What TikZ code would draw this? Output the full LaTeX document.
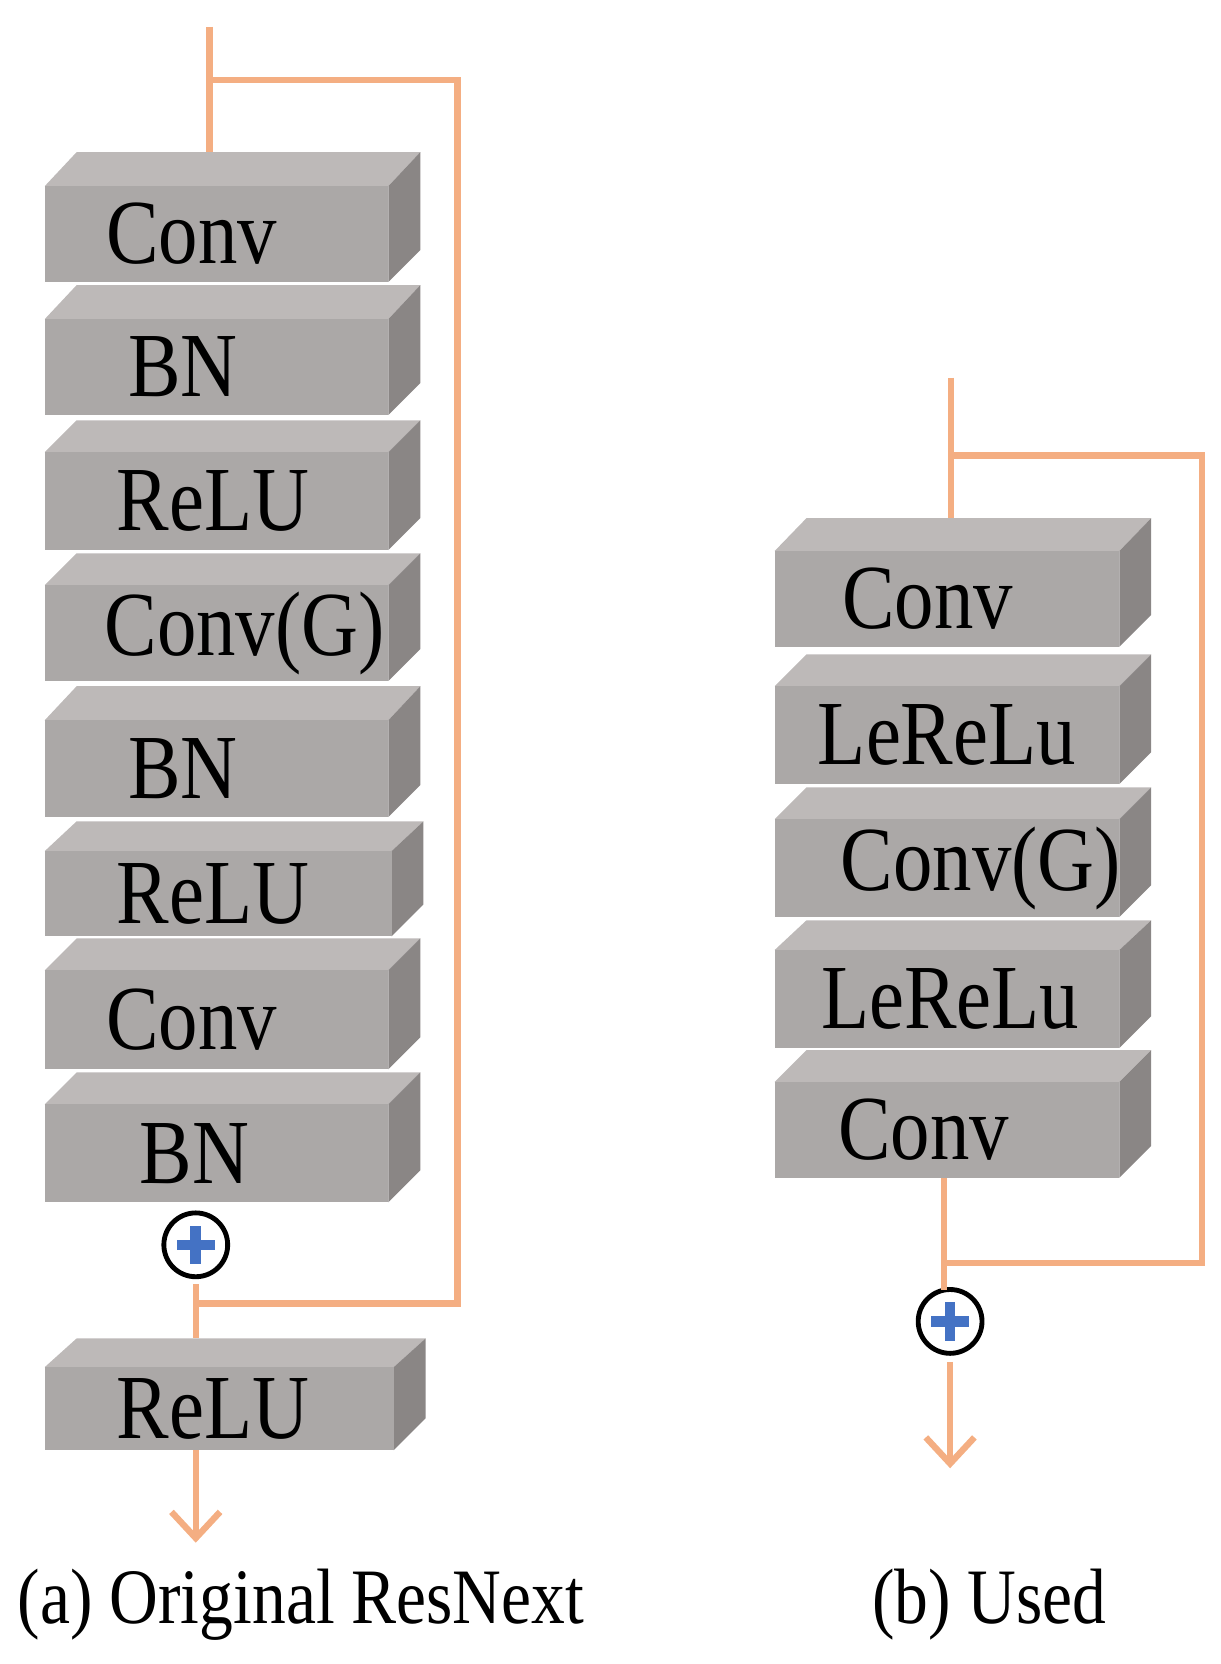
\documentclass[tikz,border=0pt]{standalone}
\usepackage{fontspec}
\setmainfont[FakeStretch=0.86]{Liberation Serif}
\usetikzlibrary{arrows.meta,calc}
\definecolor{frontc}{HTML}{ABA8A7}
\definecolor{topc}{HTML}{BDB9B8}
\definecolor{sidec}{HTML}{8A8685}
\definecolor{linec}{HTML}{F4AE82}
\definecolor{plusc}{HTML}{4472C4}
\tikzset{
  wire/.style={draw=linec, line width=3.4pt},
  lbl/.style={font=\fontsize{49}{49}\selectfont},
  captext/.style={font=\fontsize{42}{42}\selectfont},
  addop/.style={circle, draw=black, line width=2.6pt, fill=white, minimum size=1.2cm, inner sep=0pt},
  headtip/.style={-{Straight Barb[length=14pt,width=26pt,line width=3.4pt]}}
}
% \blockbox{name}{x1}{x2}{ytop-back}{ytop-front}{ybottom}{text x}{text}
\newcommand{\blockbox}[8]{
  \fill[topc] (#2,#5) -- (#2+30,#4) -- (#3+30,#4) -- (#3,#5) -- cycle;
  \fill[sidec] (#3,#5) -- (#3+30,#4) -- (#3+30,#6-30) -- (#3,#6) -- cycle;
  \fill[frontc] (#2,#5) rectangle (#3,#6);
  \node[lbl] (#1) at (#7,{(#5+#6)/2}) {#8};
}
\newcommand{\plusmark}[1]{
  \fill[plusc] ($(#1)+(-18,-5)$) rectangle ($(#1)+(18,5)$);
  \fill[plusc] ($(#1)+(-5,-18)$) rectangle ($(#1)+(5,18)$);
}
\begin{document}
\begin{tikzpicture}[x=0.02cm, y=-0.02cm]
\useasboundingbox (0,0) rectangle (1147,1564);

% (a) original ResNext
\blockbox{a1}{42}{365}{143}{175}{265}{180}{Conv}
\blockbox{a2}{42}{365}{268}{300}{390}{172}{BN}
\blockbox{a3}{42}{365}{395}{425}{517}{200}{ReLU}
\blockbox{a4}{42}{365}{520}{550}{640}{230}{Conv(G)}
\blockbox{a5}{42}{365}{645}{677}{768}{172}{BN}
\blockbox{a6}{42}{368}{772}{800}{880}{200}{ReLU}
\blockbox{a7}{42}{365}{882}{912}{1005}{180}{Conv}
\blockbox{a8}{42}{365}{1008}{1038}{1130}{183}{BN}
\blockbox{a9}{42}{370}{1258}{1285}{1363}{200}{ReLU}

\coordinate (ain) at (197,25);
\coordinate (asplit) at (197,75);
\coordinate (ajoin) at (184,1225);
\coordinate (aout) at (184,1450);
\node[addop] (aplus) at (184,1170) {};
\plusmark{aplus}

\draw[wire] (ain) -- (197,143);
\draw[wire] (asplit) -| (430,1225) -- (ajoin);
\draw[wire] (184,1207) -- (184,1258);
\draw[wire, headtip] (184,1363) -- (aout);

% (b) used
\blockbox{b1}{728}{1052}{487}{518}{608}{872}{Conv}
\blockbox{b2}{728}{1052}{615}{645}{737}{890}{LeReLu}
\blockbox{b3}{728}{1052}{740}{770}{862}{922}{Conv(G)}
\blockbox{b4}{728}{1052}{865}{893}{985}{893}{LeReLu}
\blockbox{b5}{728}{1052}{987}{1017}{1107}{868}{Conv}

\coordinate (bin) at (894,355);
\coordinate (bsplit) at (894,428);
\coordinate (bjoin) at (887,1187);
\coordinate (bout) at (893,1380);
\node[addop] (bplus) at (893,1242) {};
\plusmark{bplus}

\draw[wire] (bin) -- (894,487);
\draw[wire] (bsplit) -| (1130,1187) -- (bjoin);
\draw[wire] (887,1107) -- (887,1212);
\draw[wire, headtip] (893,1280) -- (bout);

% captions
\node[captext] (capa) at (283,1508) {(a) Original ResNext};
\node[captext] (capb) at (930,1508) {(b) Used};
\end{tikzpicture}
\end{document}
